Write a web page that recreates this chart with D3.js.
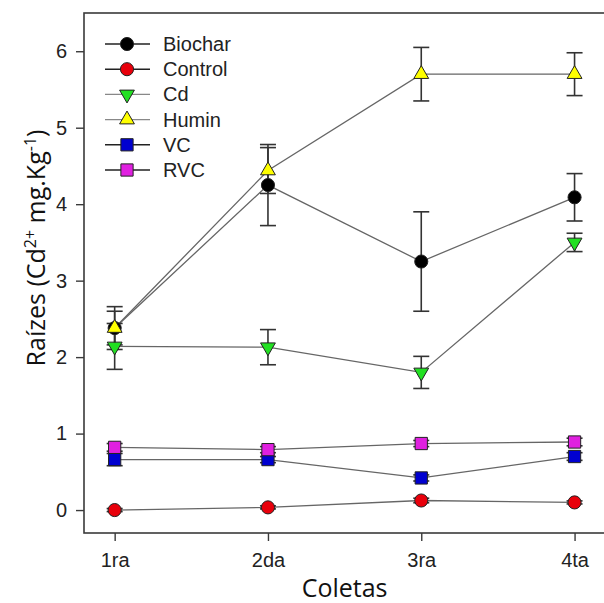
<!DOCTYPE html>
<html>
<head>
<meta charset="utf-8">
<script src="https://cdn.jsdelivr.net/npm/d3@7"></script>
<style>
  body { margin: 0; background: #fff; }
  svg { display: block; }
</style>
</head>
<body>
<div id="chart"></div>
<script>
// data
var coletas = ["1ra", "2da", "3ra", "4ta"];
var yTicks = [0, 1, 2, 3, 4, 5, 6];

var biochar   = [2.38, 4.25, 3.25, 4.09];
var biocharSE = [0.28, 0.53, 0.65, 0.31];
var control   = [0.00, 0.035, 0.125, 0.10];
var controlSE = [0.02, 0.02, 0.03, 0.02];
var cd        = [2.14, 2.13, 1.80, 3.50];
var cdSE      = [0.30, 0.23, 0.21, 0.12];
var humin     = [2.38, 4.44, 5.70, 5.70];
var huminSE   = [0.22, 0.30, 0.35, 0.28];
var vc        = [0.66, 0.66, 0.42, 0.70];
var vcSE      = [0.08, 0.04, 0.04, 0.05];
var rvc       = [0.82, 0.79, 0.87, 0.89];
var rvcSE     = [0.05, 0.04, 0.04, 0.05];

var series = [
  {name: "Biochar", vals: biochar, se: biocharSE, sym: d3.symbolCircle,   size: 135, rot: 0,   fill: "#000000", legLine: "#222"},
  {name: "Control", vals: control, se: controlSE, sym: d3.symbolCircle,   size: 135, rot: 0,   fill: "#e8000b", legLine: "#222"},
  {name: "Cd",      vals: cd,      se: cdSE,      sym: d3.symbolTriangle, size: 95,  rot: 180, fill: "#22e022", legLine: "#888"},
  {name: "Humin",   vals: humin,   se: huminSE,   sym: d3.symbolTriangle, size: 95,  rot: 0,   fill: "#ffff00", legLine: "#888"},
  {name: "VC",      vals: vc,      se: vcSE,      sym: d3.symbolSquare,   size: 150, rot: 0,   fill: "#0000d0", legLine: "#222"},
  {name: "RVC",     vals: rvc,     se: rvcSE,     sym: d3.symbolSquare,   size: 150, rot: 0,   fill: "#e020e0", legLine: "#222"}
];

var W = 604, H = 603;
var margin = {top: 13, left: 84, bottom: 70};
var fontArial = "'Liberation Sans', Arial, sans-serif";

var svg = d3.select("#chart").append("svg")
    .attr("width", W)
    .attr("height", H);

var x = d3.scaleLinear()
  .domain([0.8, 4.2])
  .range([margin.left, margin.left + 3.4 * 153.3]);

var y = d3.scaleLinear()
  .domain([-0.3, 6.5])
  .range([H - margin.bottom, margin.top]);

// frame
svg.append("rect")
  .attr("x", x(0.8))
  .attr("y", y(6.5))
  .attr("width", x(4.2) - x(0.8))
  .attr("height", y(-0.3) - y(6.5))
  .attr("fill", "none")
  .attr("stroke", "#3a3a3a")
  .attr("stroke-width", 1.6);

var yAxis = svg.append("g")
  .attr("transform", "translate(" + x(0.8) + ",0)")
  .call(d3.axisLeft(y).tickValues(yTicks).tickSize(8).tickPadding(9).tickFormat(d3.format("d")));

var xAxis = svg.append("g")
  .attr("transform", "translate(0," + y(-0.3) + ")")
  .call(d3.axisBottom(x).tickValues([1, 2, 3, 4]).tickSize(8).tickPadding(12)
    .tickFormat(function(d) { return coletas[d - 1]; }));

[xAxis, yAxis].forEach(function(a) {
  a.attr("font-family", fontArial).attr("font-size", 20);
  a.select(".domain").remove();
  a.selectAll("line").attr("stroke", "#3a3a3a").attr("stroke-width", 1.4);
  a.selectAll("text")
    .attr("fill", "#222")
    .style("font-family", fontArial)
    .style("font-size", "20px");
});

// axis titles
svg.append("text")
  .attr("x", (x(1) + x(4)) / 2)
  .attr("y", 597)
  .attr("text-anchor", "middle")
  .attr("fill", "#111")
  .style("font-family", "'Open Sans', sans-serif")
  .style("font-size", "25px")
  .text("Coletas");

var yt = svg.append("text")
  .attr("transform", "translate(45,248) rotate(-90)")
  .attr("text-anchor", "middle")
  .attr("fill", "#111")
  .style("font-family", "'Open Sans', sans-serif")
  .style("font-size", "25px");
yt.append("tspan").text("Raízes (Cd");
yt.append("tspan").attr("dy", -9).style("font-size", "16px").text("2+");
yt.append("tspan").attr("dy", 9).text(" mg.Kg");
yt.append("tspan").attr("dy", -9).style("font-size", "16px").text("-1");
yt.append("tspan").attr("dy", 9).text(")");

var line = d3.line()
  .x(function(d, i) { return x(i + 1); })
  .y(function(d) { return y(d); });

// connecting lines
series.forEach(function(s) {
  svg.append("path")
    .datum(s.vals)
    .attr("d", line)
    .attr("fill", "none")
    .attr("stroke", "#666")
    .attr("stroke-width", 1.3);
});

// error bars
var cap = 8;
series.forEach(function(s) {
  var g = svg.append("g").attr("stroke", "#333").attr("stroke-width", 1.6);
  s.vals.forEach(function(v, i) {
    var cx = x(i + 1), hi = y(v + s.se[i]), lo = y(v - s.se[i]);
    g.append("line").attr("x1", cx).attr("x2", cx).attr("y1", hi).attr("y2", lo);
    g.append("line").attr("x1", cx - cap).attr("x2", cx + cap).attr("y1", hi).attr("y2", hi);
    g.append("line").attr("x1", cx - cap).attr("x2", cx + cap).attr("y1", lo).attr("y2", lo);
  });
});

// markers
series.forEach(function(s) {
  svg.append("g").selectAll("path")
    .data(s.vals)
    .enter()
    .append("path")
      .attr("d", d3.symbol().type(s.sym).size(s.size))
      .attr("transform", function(d, i) {
        return "translate(" + x(i + 1) + "," + y(d) + ") rotate(" + s.rot + ")";
      })
      .attr("fill", s.fill)
      .attr("stroke", "#222")
      .attr("stroke-width", 1);
});

// legend
var leg = svg.append("g").attr("transform", "translate(105,44)");
series.forEach(function(s, i) {
  var row = leg.append("g").attr("transform", "translate(0," + (i * 25.2) + ")");
  row.append("line")
    .attr("x1", 0).attr("x2", 45)
    .attr("stroke", s.legLine)
    .attr("stroke-width", 1.4);
  row.append("path")
    .attr("d", d3.symbol().type(s.sym).size(s.size))
    .attr("transform", "translate(22,0) rotate(" + s.rot + ")")
    .attr("fill", s.fill)
    .attr("stroke", "#222")
    .attr("stroke-width", 1);
  row.append("text")
    .attr("x", 58)
    .attr("y", 7)
    .attr("fill", "#222")
    .style("font-family", fontArial)
    .style("font-size", "20px")
    .text(s.name);
});
</script>
</body>
</html>
